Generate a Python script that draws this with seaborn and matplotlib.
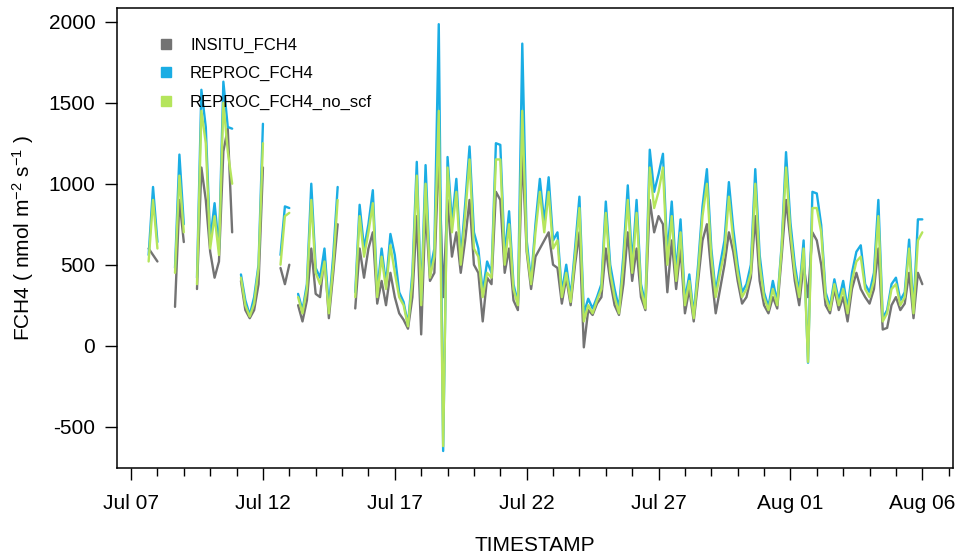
import numpy as np
import pandas as pd
import matplotlib
matplotlib.use('Agg')
import matplotlib.pyplot as plt
import matplotlib.dates as mdates
from matplotlib.lines import Line2D
import seaborn as sns

nan = np.nan

# 4-hourly FCH4 values, starting Jul 07 16:00 (one row per day)
insitu_fch4 = [
    600, 560,                              # Jul 07
    520, nan, nan, nan, 240, 900,          # Jul 08
    640, nan, nan, 350, 1100, 900,         # Jul 09
    580, 420, 520, 1200, 1340, 700,        # Jul 10
    nan, 400, 220, 170, 220, 380,          # Jul 11
    1100, nan, nan, nan, 480, 380,         # Jul 12
    500, nan, 250, 150, 280, 600,          # Jul 13
    320, 300, 560, 170, 450, 750,          # Jul 14
    nan, nan, nan, 230, 600, 420,          # Jul 15
    600, 700, 260, 400, 250, 450,          # Jul 16
    300, 200, 160, 105, 300, 800,          # Jul 17
    70, 850, 400, 450, 1200, 300,          # Jul 18
    900, 550, 700, 450, 650, 900,          # Jul 19
    500, 450, 150, 420, 380, 950,          # Jul 20
    900, 450, 600, 280, 220, 1200,         # Jul 21
    580, 350, 550, 600, 650, 700,          # Jul 22
    500, 480, 260, 420, 250, 500,          # Jul 23
    700, -10, 220, 190, 260, 300,          # Jul 24
    600, 400, 250, 190, 380, 700,          # Jul 25
    400, 600, 300, 220, 900, 700,          # Jul 26
    800, 750, 330, 650, 350, 600,          # Jul 27
    200, 350, 150, 400, 650, 750,          # Jul 28
    450, 200, 350, 500, 700, 580,          # Jul 29
    400, 260, 300, 420, 800, 400,          # Jul 30
    250, 200, 300, 230, 550, 900,          # Jul 31
    650, 400, 250, 500, 300, 700,          # Aug 01
    650, 500, 250, 200, 350, 220,          # Aug 02
    300, 150, 350, 450, 350, 300,          # Aug 03
    260, 350, 600, 100, 110, 250,          # Aug 04
    300, 220, 260, 450, 170, 450,          # Aug 05
    380,                                   # Aug 06
]

reproc_fch4 = [
    560, 980,
    640, nan, nan, nan, 480, 1180,
    750, nan, nan, 420, 1580, 1350,
    650, 880, 600, 1630, 1350, 1340,
    nan, 440, 280, 190, 300, 500,
    1370, nan, nan, nan, 560, 860,
    850, nan, 320, 220, 380, 1000,
    480, 420, 600, 230, 560, 980,
    nan, nan, nan, 330, 870, 600,
    750, 960, 330, 600, 380, 690,
    560, 330, 270, 130, 450, 1135,
    280, 1115, 460, 600, 1985, -650,
    1165, 760, 1030, 540, 870, 1230,
    700, 600, 330, 520, 450, 1250,
    1240, 560, 830, 380, 260, 1865,
    650, 400, 750, 1030, 760, 1040,
    650, 700, 330, 500, 300, 600,
    920, 200, 290, 230, 300, 380,
    890, 500, 350, 230, 560, 990,
    500, 900, 380, 260, 1210, 950,
    1060, 1185, 560, 890, 450, 780,
    280, 440, 190, 500, 860, 1090,
    600, 330, 500, 650, 1010, 720,
    500, 330, 380, 500, 1090, 560,
    330, 240, 400, 270, 620, 1195,
    760, 500, 330, 650, -105, 950,
    940, 745, 330, 240, 410, 280,
    400, 230, 450, 580, 620, 380,
    330, 450, 900, 170, 220, 380,
    420, 280, 330, 655, 220, 780,
    780,
]

reproc_fch4_no_scf = [
    520, 900,
    600, nan, nan, nan, 450, 1050,
    700, nan, nan, 380, 1450, 1250,
    600, 800, 560, 1500, 1200, 1000,
    nan, 420, 250, 180, 260, 480,
    1250, nan, nan, nan, 500, 800,
    820, nan, 300, 200, 350, 900,
    450, 380, 520, 200, 500, 900,
    nan, nan, nan, 300, 800, 550,
    700, 880, 300, 550, 350, 620,
    450, 300, 250, 120, 400, 1050,
    250, 1000, 420, 550, 1450, -620,
    1100, 700, 950, 500, 800, 1150,
    600, 550, 300, 450, 420, 1150,
    1150, 500, 750, 350, 250, 1450,
    600, 380, 700, 950, 700, 950,
    600, 650, 300, 450, 270, 550,
    850, 150, 250, 200, 280, 350,
    820, 450, 300, 200, 500, 900,
    450, 820, 350, 230, 1100, 850,
    950, 1100, 500, 800, 400, 700,
    250, 400, 170, 450, 800, 1000,
    550, 300, 450, 580, 920, 650,
    450, 300, 350, 450, 1000, 500,
    300, 220, 350, 250, 600, 1100,
    700, 450, 300, 600, -100, 850,
    850, 700, 300, 220, 380, 250,
    350, 200, 400, 520, 550, 350,
    300, 400, 800, 150, 200, 350,
    380, 250, 300, 600, 200, 650,
    700,
]

series_names = ['INSITU_FCH4', 'REPROC_FCH4', 'REPROC_FCH4_no_scf']
series_colors = ['#737373', '#1AADE4', '#B5E55C']
y_ticks = [-500, 0, 500, 1000, 1500, 2000]

times = pd.date_range('2021-07-07 16:00', periods=len(reproc_fch4_no_scf), freq='4h')

sns.set_theme(style='ticks')
plt.rcParams['font.family'] = ['Liberation Sans', 'DejaVu Sans']
plt.rcParams['axes.unicode_minus'] = False
plt.rcParams['mathtext.fontset'] = 'custom'
plt.rcParams['mathtext.rm'] = 'Liberation Sans'
plt.rcParams['mathtext.it'] = 'Liberation Sans:italic'

fig = plt.figure(figsize=(9.57, 5.54), dpi=100)
ax = fig.add_axes([0.1223, 0.1552, 0.8736, 0.8304])

# draw order: in-situ first, then reprocessed, no_scf on top
for name, vals, col in zip(series_names,
                           [insitu_fch4, reproc_fch4, reproc_fch4_no_scf],
                           series_colors):
    d = pd.DataFrame({'TIMESTAMP': times, 'FCH4': vals})
    d['seg'] = d['FCH4'].isna().cumsum()   # break the line at data gaps
    d = d.dropna()
    sns.lineplot(data=d, x='TIMESTAMP', y='FCH4', units='seg', estimator=None,
                 color=col, lw=1.7, ax=ax)

ax.set_xlim(pd.Timestamp('2021-07-06 11:15'), pd.Timestamp('2021-08-07 04:00'))
ax.set_ylim(-755, 2085)

ax.set_xticks(pd.date_range('2021-07-07', '2021-08-06', freq='5D'))
ax.xaxis.set_major_formatter(mdates.DateFormatter('%b %d'))
ax.xaxis.set_minor_locator(mdates.DayLocator())
ax.set_yticks(y_ticks)

for s in ax.spines.values():
    s.set_visible(True)
    s.set_color('black')
    s.set_linewidth(1.1)

ax.tick_params(axis='both', which='major', direction='out', length=8.6, width=1,
               color='black', labelcolor='black', labelsize=15)
ax.tick_params(axis='x', which='minor', direction='out', length=5.4, width=1,
               color='black', bottom=True)
ax.tick_params(axis='x', which='major', pad=10)
ax.tick_params(axis='y', which='major', pad=7)

ax.set_xlabel('TIMESTAMP', fontsize=15, color='black')
ax.set_ylabel(r'FCH4 ( nmol m$^{-2}$ s$^{-1}$ )', fontsize=15, color='black')
ax.xaxis.set_label_coords(0.5, -0.148)
ax.yaxis.set_label_coords(-0.097, 0.5)

handles = [Line2D([], [], marker='s', linestyle='none', markersize=6.5,
                  markerfacecolor=c, markeredgecolor=c) for c in series_colors]
leg = ax.legend(handles, series_names, loc='upper left', bbox_to_anchor=(0.049, 0.936),
                frameon=False, fontsize=12, handlelength=1.0, handletextpad=0.92,
                labelspacing=0.81, borderpad=0, borderaxespad=0)
for t in leg.get_texts():
    t.set_color('black')

fig.savefig('out.png', dpi=100)
